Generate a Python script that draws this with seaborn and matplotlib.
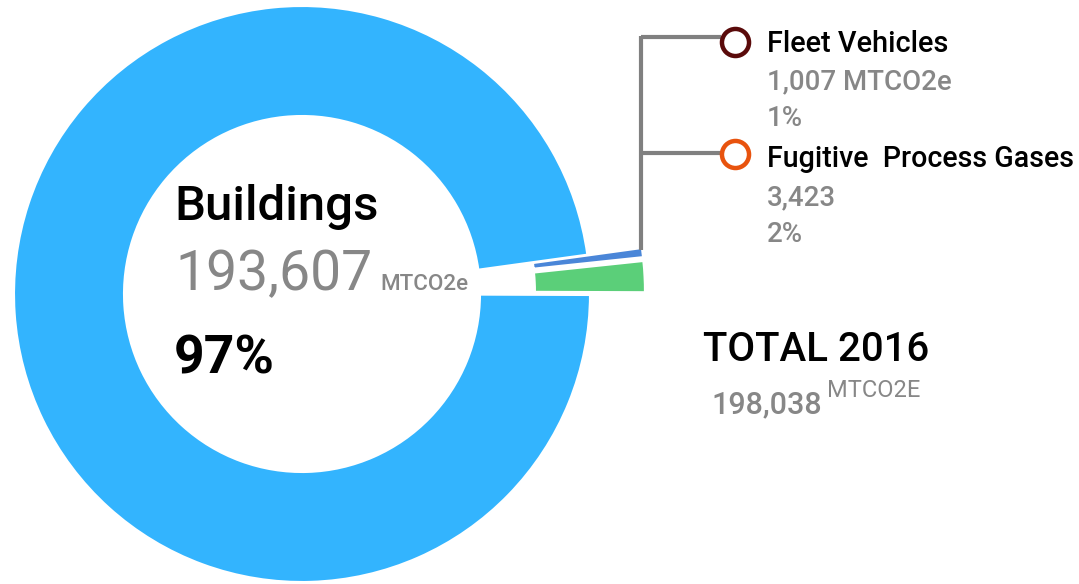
import matplotlib
matplotlib.use("Agg")
import matplotlib.pyplot as plt
import seaborn as sns

# ---------------- data ----------------
categories = ["Fugitive  Process Gases", "Fleet Vehicles", "Buildings"]
emissions = [3423, 1007, 193607]
value_labels = ["3,423", "1,007 MTCO2e", "193,607"]
share_labels = ["2%", "1%", "97%"]
unit_label = "MTCO2e"
total_title = "TOTAL 2016"
total_value = "198,038"
total_unit = "MTCO2E"
slice_colors = ["#5bcf79", "#4a86d8", "#33b4fe"]
marker_colors = ["#e8530e", "#5a0a0a"]

# ---------------- style ----------------
sns.set_theme(style="white")
plt.rcParams['font.family'] = ['Roboto', 'DejaVu Sans']

W, H = 1079, 584
fig = plt.figure(figsize=(W / 100, H / 100), dpi=100)
ax = fig.add_axes([0, 0, 1, 1])

cx, cy = 302, H - 294
R = 288
ring = 110
pull = 55  # offset of the small slices, in pixels
ax.pie(emissions, colors=slice_colors, startangle=-0.2, counterclock=True,
       radius=R, center=(cx, cy), explode=[pull, pull, 0],
       wedgeprops=dict(width=ring, edgecolor="white", linewidth=1.5),
       frame=True)
ax.set_xlim(0, W)
ax.set_ylim(0, H)
ax.axis("off")

renderer = fig.canvas.get_renderer()
GRAY = "#878787"


def fit_size(s, width, weight):
    t = ax.text(0, 0, s, fontsize=20, fontweight=weight)
    w = t.get_window_extent(renderer).width
    t.remove()
    return 20 * width / w


def put(s, x, ybase, size, color, weight):
    ax.text(x, H - ybase, s, fontsize=size, color=color, fontweight=weight,
            ha="left", va="baseline")


# leader lines
lc = "#808080"
ax.plot([641, 641], [H - 36, H - 250], color=lc, lw=3, solid_capstyle="butt")
ax.plot([641, 721], [H - 37, H - 37], color=lc, lw=3, solid_capstyle="butt")
ax.plot([641, 721], [H - 153, H - 153], color=lc, lw=3, solid_capstyle="butt")
ax.plot([735], [H - 42], "o", ms=19.5, mfc="white", mec=marker_colors[1], mew=3.2)
ax.plot([735], [H - 154], "o", ms=19.5, mfc="white", mec=marker_colors[0], mew=3.2)

# right legend texts
s_name = fit_size(categories[1], 181, "medium")
s_val = fit_size(value_labels[1], 184, "medium")
put(categories[1], 767, 52, s_name, "black", "medium")
put(value_labels[1], 767, 89, s_val, GRAY, "medium")
put(share_labels[1], 767, 126, s_val, GRAY, "medium")
put(categories[0], 767, 167, fit_size(categories[0], 308, "medium"), "black", "medium")
put(value_labels[0], 767, 205, s_val, GRAY, "medium")
put(share_labels[0], 767, 242, s_val, GRAY, "medium")

# centre texts
put(categories[2], 174, 220, fit_size(categories[2], 204, "medium"), "black", "medium")
put(value_labels[2], 175, 290, fit_size(value_labels[2], 197, "normal"), GRAY, "normal")
put(unit_label, 380, 290, fit_size(unit_label, 88, "medium"), GRAY, "medium")
put(share_labels[2], 174, 373, fit_size(share_labels[2], 101, "bold"), "black", "bold")

# total
put(total_title, 703, 361, fit_size(total_title, 226, "medium"), "black", "medium")
put(total_value, 711, 413, fit_size(total_value, 111, "medium"), GRAY, "medium")
put(total_unit, 827, 397, fit_size(total_unit, 93, "normal"), GRAY, "normal")

fig.savefig("out.png", dpi=100)
